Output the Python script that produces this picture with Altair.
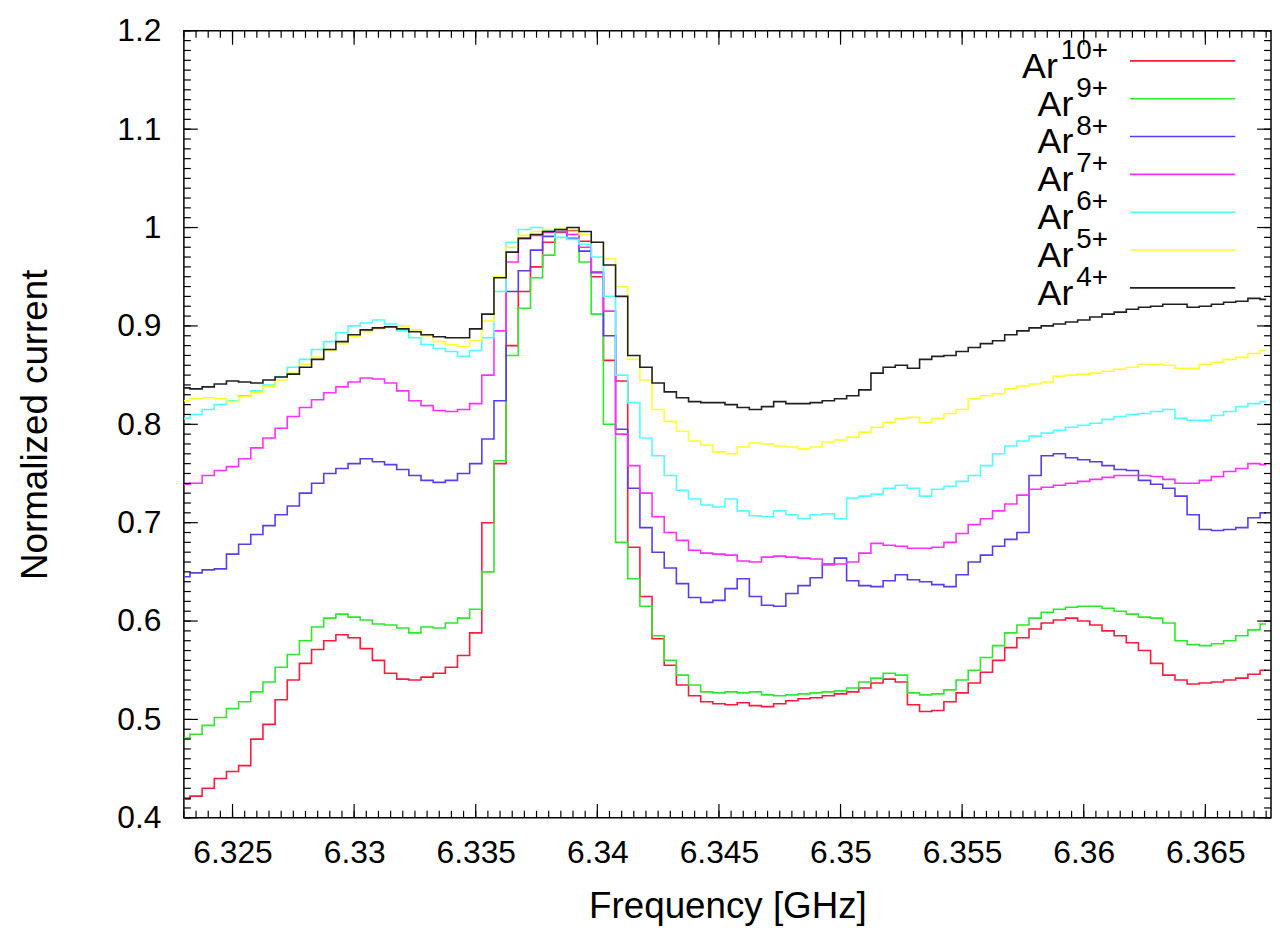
import altair as alt
import pandas as pd

# ---------------- data ----------------
FREQ_START = 6.3230
FREQ_STEP = 0.0005
freq = [round(FREQ_START + FREQ_STEP * i, 4) for i in range(90)]

ar10 = [0.419, 0.422, 0.430, 0.440, 0.447, 0.453, 0.480, 0.495, 0.520, 0.540,
        0.557, 0.571, 0.580, 0.586, 0.583, 0.572, 0.560, 0.547, 0.541, 0.540,
        0.543, 0.547, 0.553, 0.565, 0.588, 0.700, 0.760, 0.880, 0.935, 0.960,
        0.985, 0.995, 0.997, 0.986, 0.950, 0.865, 0.844, 0.675, 0.625, 0.582,
        0.555, 0.535, 0.524, 0.518, 0.516, 0.515, 0.517, 0.514, 0.513, 0.516,
        0.519, 0.521, 0.522, 0.524, 0.526, 0.528, 0.532, 0.537, 0.541, 0.538,
        0.515, 0.508, 0.509, 0.518, 0.527, 0.537, 0.548, 0.560, 0.573, 0.583,
        0.592, 0.598, 0.601, 0.603, 0.600, 0.596, 0.590, 0.585, 0.578, 0.570,
        0.557, 0.545, 0.540, 0.536, 0.537, 0.538, 0.540, 0.542, 0.546, 0.550]

ar9 = [0.481, 0.485, 0.494, 0.502, 0.511, 0.518, 0.528, 0.538, 0.553, 0.566,
       0.580, 0.594, 0.603, 0.607, 0.604, 0.601, 0.597, 0.596, 0.593, 0.588,
       0.594, 0.593, 0.598, 0.603, 0.612, 0.650, 0.763, 0.870, 0.918, 0.949,
       0.972, 0.996, 0.993, 0.965, 0.912, 0.800, 0.680, 0.643, 0.615, 0.585,
       0.560, 0.545, 0.535, 0.528, 0.527, 0.528, 0.527, 0.528, 0.525, 0.524,
       0.525, 0.526, 0.527, 0.528, 0.529, 0.532, 0.538, 0.542, 0.547, 0.545,
       0.527, 0.525, 0.526, 0.530, 0.540, 0.550, 0.563, 0.575, 0.588, 0.596,
       0.603, 0.609, 0.612, 0.614, 0.615, 0.615, 0.613, 0.610, 0.607, 0.604,
       0.603, 0.598, 0.580, 0.576, 0.575, 0.577, 0.580, 0.585, 0.591, 0.597]

ar8 = [0.645, 0.649, 0.652, 0.653, 0.668, 0.678, 0.688, 0.697, 0.708, 0.717,
       0.730, 0.740, 0.750, 0.755, 0.760, 0.765, 0.762, 0.759, 0.754, 0.748,
       0.743, 0.741, 0.743, 0.750, 0.760, 0.785, 0.824, 0.935, 0.956, 0.977,
       0.991, 0.996, 0.989, 0.976, 0.954, 0.890, 0.795, 0.735, 0.695, 0.670,
       0.654, 0.638, 0.624, 0.619, 0.621, 0.633, 0.643, 0.625, 0.616, 0.615,
       0.628, 0.636, 0.644, 0.658, 0.664, 0.641, 0.636, 0.635, 0.641, 0.647,
       0.642, 0.640, 0.637, 0.635, 0.647, 0.660, 0.667, 0.676, 0.683, 0.690,
       0.748, 0.768, 0.770, 0.766, 0.764, 0.762, 0.758, 0.754, 0.753, 0.743,
       0.739, 0.735, 0.727, 0.708, 0.693, 0.692, 0.693, 0.695, 0.705, 0.710]

ar7 = [0.739, 0.740, 0.748, 0.753, 0.757, 0.765, 0.776, 0.786, 0.796, 0.808,
       0.817, 0.825, 0.832, 0.838, 0.843, 0.847, 0.846, 0.842, 0.834, 0.824,
       0.819, 0.814, 0.813, 0.815, 0.821, 0.850, 0.895, 0.965, 0.989, 0.992,
       0.995, 0.996, 0.993, 0.980, 0.955, 0.915, 0.790, 0.758, 0.730, 0.706,
       0.690, 0.682, 0.672, 0.669, 0.668, 0.667, 0.661, 0.660, 0.665, 0.666,
       0.665, 0.664, 0.663, 0.657, 0.658, 0.660, 0.669, 0.679, 0.677, 0.676,
       0.674, 0.674, 0.675, 0.680, 0.689, 0.698, 0.704, 0.712, 0.719, 0.728,
       0.734, 0.736, 0.738, 0.740, 0.742, 0.744, 0.746, 0.748, 0.748, 0.748,
       0.747, 0.744, 0.740, 0.740, 0.743, 0.747, 0.752, 0.755, 0.760, 0.759]

ar6 = [0.806, 0.810, 0.815, 0.820, 0.824, 0.829, 0.834, 0.840, 0.848, 0.858,
       0.866, 0.876, 0.884, 0.893, 0.900, 0.903, 0.906, 0.902, 0.895, 0.888,
       0.881, 0.877, 0.874, 0.869, 0.875, 0.888, 0.935, 0.985, 0.998, 1.000,
       0.997, 0.990, 0.988, 0.983, 0.970, 0.930, 0.850, 0.822, 0.786, 0.768,
       0.748, 0.733, 0.724, 0.718, 0.716, 0.724, 0.712, 0.707, 0.706, 0.712,
       0.708, 0.704, 0.708, 0.709, 0.704, 0.725, 0.727, 0.729, 0.735, 0.738,
       0.735, 0.727, 0.734, 0.737, 0.742, 0.748, 0.758, 0.770, 0.778, 0.783,
       0.788, 0.791, 0.794, 0.797, 0.799, 0.801, 0.805, 0.808, 0.810, 0.811,
       0.813, 0.815, 0.806, 0.804, 0.804, 0.809, 0.813, 0.818, 0.821, 0.823]

ar5 = [0.824, 0.826, 0.827, 0.826, 0.823, 0.828, 0.832, 0.838, 0.845, 0.852,
       0.861, 0.868, 0.875, 0.882, 0.889, 0.894, 0.897, 0.899, 0.900, 0.896,
       0.890, 0.884, 0.881, 0.879, 0.885, 0.905, 0.950, 0.980, 0.992, 0.996,
       0.998, 0.999, 0.998, 0.993, 0.985, 0.968, 0.940, 0.866, 0.845, 0.815,
       0.803, 0.793, 0.783, 0.779, 0.772, 0.770, 0.777, 0.781, 0.780, 0.778,
       0.777, 0.775, 0.777, 0.782, 0.784, 0.787, 0.792, 0.797, 0.802, 0.806,
       0.807, 0.802, 0.806, 0.811, 0.815, 0.826, 0.829, 0.831, 0.836, 0.839,
       0.841, 0.843, 0.849, 0.850, 0.851, 0.852, 0.854, 0.856, 0.858, 0.861,
       0.861, 0.860, 0.857, 0.857, 0.861, 0.863, 0.866, 0.868, 0.872, 0.875]

ar4 = [0.837, 0.836, 0.838, 0.841, 0.844, 0.843, 0.842, 0.845, 0.848, 0.851,
       0.858, 0.866, 0.876, 0.884, 0.891, 0.896, 0.898, 0.899, 0.897, 0.894,
       0.891, 0.889, 0.888, 0.888, 0.897, 0.912, 0.949, 0.975, 0.989, 0.993,
       0.996, 0.998, 1.000, 0.996, 0.985, 0.962, 0.930, 0.870, 0.858, 0.842,
       0.833, 0.827, 0.823, 0.822, 0.822, 0.820, 0.817, 0.815, 0.818, 0.823,
       0.821, 0.821, 0.822, 0.824, 0.826, 0.829, 0.835, 0.852, 0.858, 0.860,
       0.857, 0.866, 0.869, 0.870, 0.874, 0.878, 0.882, 0.885, 0.891, 0.895,
       0.898, 0.900, 0.902, 0.904, 0.906, 0.909, 0.912, 0.914, 0.917, 0.919,
       0.920, 0.922, 0.922, 0.919, 0.920, 0.922, 0.924, 0.925, 0.928, 0.927]

series_names = ["Ar10+", "Ar9+", "Ar8+", "Ar7+", "Ar6+", "Ar5+", "Ar4+"]
series_sup = ["10+", "9+", "8+", "7+", "6+", "5+", "4+"]
series_values = [ar10, ar9, ar8, ar7, ar6, ar5, ar4]
series_colors = ["#ff1a3c", "#2ee82e", "#5a3cf0", "#ff30ff", "#50ffff", "#ffff30", "#202020"]

x_tick_values = [6.325, 6.33, 6.335, 6.34, 6.345, 6.35, 6.355, 6.36, 6.365]
y_tick_values = [0.4, 0.5, 0.6, 0.7, 0.8, 0.9, 1.0, 1.1, 1.2]
x_minor_values = [round(6.3230 + 0.0005 * i, 4) for i in range(90)]
y_minor_values = [round(0.40 + 0.01 * i, 2) for i in range(81)]

X_DOMAIN = [6.3230, 6.3677]
Y_DOMAIN = [0.4, 1.2]

# ---------------- layout ----------------
W, H = 1094, 792
FONT = "Liberation Sans"

rows = []
for name, vals in zip(series_names, series_values):
    for f, v in zip(freq, vals):
        rows.append({"freq": f, "value": v, "series": name})
df = pd.DataFrame(rows)

xs = alt.Scale(domain=X_DOMAIN, nice=False, zero=False)
ys = alt.Scale(domain=Y_DOMAIN, nice=False, zero=False)
cs = alt.Scale(domain=series_names, range=series_colors)

lines = alt.Chart(df).mark_line(interpolate="step", strokeWidth=1.6, clip=True).encode(
    x=alt.X("freq:Q", scale=xs, axis=alt.Axis(
        values=x_tick_values, format="~g", ticks=False, domain=False, grid=False,
        tickSize=0, labelPadding=20, labelFont=FONT, labelFontSize=32, labelColor="black",
        title="Frequency [GHz]", titleFont=FONT, titleFontSize=37, titleFontWeight="normal",
        titleColor="black", titleX=W / 2, titleY=100, titleBaseline="alphabetic",
        titleAlign="center", labelFlush=False, labelOverlap=False)),
    y=alt.Y("value:Q", scale=ys, axis=alt.Axis(
        values=y_tick_values, format="~g", ticks=False, domain=False, grid=False,
        tickSize=0, labelPadding=23, labelFont=FONT, labelFontSize=32, labelColor="black",
        title="Normalized current", titleFont=FONT, titleFontSize=37, titleFontWeight="normal",
        titleColor="black", titleX=-138, titleY=H / 2, titleBaseline="alphabetic",
        titleAlign="center", titleAngle=270, labelFlush=False, labelOverlap=False)),
    color=alt.Color("series:N", scale=cs, legend=None),
    order=alt.Order("freq:Q"),
)


def xticks(values, length, top):
    d = pd.DataFrame({"v": values})
    if top:
        yy = dict(y=alt.value(0), y2=alt.value(length))
    else:
        yy = dict(y=alt.value(H), y2=alt.value(H - length))
    return alt.Chart(d).mark_rule(color="black", strokeWidth=1.2).encode(
        x=alt.X("v:Q", scale=xs, axis=None), **yy)


def yticks(values, length, right):
    d = pd.DataFrame({"v": values})
    if right:
        xx = dict(x=alt.value(W), x2=alt.value(W - length))
    else:
        xx = dict(x=alt.value(0), x2=alt.value(length))
    return alt.Chart(d).mark_rule(color="black", strokeWidth=1.2).encode(
        y=alt.Y("v:Q", scale=ys, axis=None), **xx)


tick_layers = [
    xticks(x_minor_values, 7, False), xticks(x_tick_values, 14, False),
    xticks(x_minor_values, 7, True), xticks(x_tick_values, 14, True),
    yticks(y_minor_values, 7, False), yticks(y_tick_values, 14, False),
    yticks(y_minor_values, 7, True), yticks(y_tick_values, 14, True),
]

# ---------------- legend (label left, sample right, as in gnuplot) ----------------
leg = pd.DataFrame({"series": series_names, "sup": series_sup,
                    "row": list(range(len(series_names)))})
SUP_FS = 28
AR_FS = 36
leg_base = alt.Chart(leg).transform_calculate(
    ly="30.3 + 38.07 * datum.row",
    supw=f"{SUP_FS} * (0.556 * (length(datum.sup) - 1) + 0.584)",
).transform_calculate(
    arx="930 - 3 - datum.supw",
    ary="datum.ly + 17",
    supy="datum.ly - 2",
)
leg_rule = leg_base.mark_rule(strokeWidth=1.6).encode(
    x=alt.value(952), x2=alt.value(1058),
    y=alt.Y("ly:Q", scale=None, axis=None),
    color=alt.Color("series:N", scale=cs, legend=None),
)
leg_ar = leg_base.mark_text(text="Ar", align="right", baseline="alphabetic",
                            font=FONT, fontSize=AR_FS, color="black").encode(
    x=alt.X("arx:Q", scale=None, axis=None),
    y=alt.Y("ary:Q", scale=None, axis=None),
)
leg_sup = leg_base.mark_text(align="right", baseline="alphabetic",
                             font=FONT, fontSize=SUP_FS, color="black").encode(
    x=alt.value(930),
    y=alt.Y("supy:Q", scale=None, axis=None),
    text="sup:N",
)

chart = alt.layer(lines, *tick_layers, leg_rule, leg_ar, leg_sup).resolve_scale(
    x="independent", y="independent", color="independent"
).properties(
    width=W, height=H,
    autosize=alt.AutoSizeParams(type="none"),
    padding={"left": 177, "top": 20, "right": 1, "bottom": 114},
    background="white",
).configure_view(stroke="black", strokeWidth=1.5)

chart.save("out.html", embed_options={"renderer": "svg", "actions": False})
